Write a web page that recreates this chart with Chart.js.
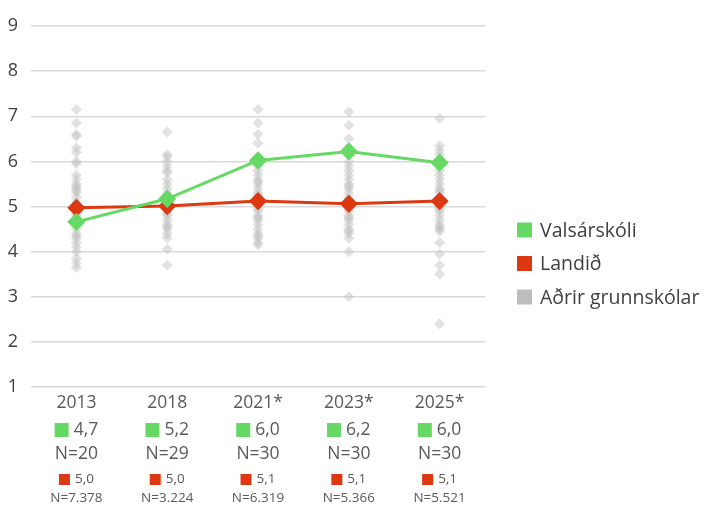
<!DOCTYPE html>
<html lang="is">
<head>
    <meta charset="UTF-8">
    <title>Valsárskóli</title>
    <script src="https://cdn.jsdelivr.net/npm/chart.js"></script>
    <style>
        html, body { margin: 0; padding: 0; background: #fff; }
        #wrap { width: 704px; height: 506px; }
    </style>
</head>
<body>
    <div id="wrap"><canvas id="graph"></canvas></div>

    <script>
        // Chart values
        const years = ["2013", "2018", "2021*", "2023*", "2025*"];
        const schoolValues = [4.66, 5.17, 6.02, 6.22, 5.97];
        const countryValues = [4.97, 5.01, 5.12, 5.06, 5.12];
        const schoolN = [20, 29, 30, 30, 30];
        const countryN = [7378, 3224, 6319, 5366, 5521];
        const yTicks = [1, 2, 3, 4, 5, 6, 7, 8, 9];

        // Other schools, one list per year
        const others2013 = [7.15, 6.85, 6.6, 6.55, 6.3, 6.2, 6.0, 5.95, 5.7, 5.6, 5.5, 5.45, 5.4, 5.35, 5.3, 5.2, 5.1, 5.05, 4.95, 4.85, 4.8, 4.7, 4.6, 4.5, 4.4, 4.35, 4.3, 4.2, 4.1, 4.0, 3.85, 3.75, 3.65];
        const others2018 = [6.65, 6.15, 6.1, 6.0, 5.9, 5.8, 5.75, 5.6, 5.5, 5.4, 5.3, 5.2, 5.1, 5.05, 5.0, 4.95, 4.9, 4.85, 4.8, 4.7, 4.6, 4.55, 4.5, 4.4, 4.3, 4.05, 3.7];
        const others2021 = [7.15, 6.85, 6.6, 6.4, 6.1, 6.0, 5.9, 5.8, 5.7, 5.6, 5.55, 5.5, 5.4, 5.3, 5.25, 5.2, 5.1, 5.0, 4.95, 4.9, 4.8, 4.75, 4.7, 4.6, 4.5, 4.4, 4.35, 4.3, 4.2, 4.15];
        const others2023 = [7.1, 6.8, 6.5, 6.3, 6.0, 5.9, 5.8, 5.7, 5.6, 5.5, 5.45, 5.4, 5.3, 5.2, 5.15, 5.1, 5.0, 4.95, 4.9, 4.8, 4.75, 4.7, 4.6, 4.5, 4.45, 4.4, 4.3, 4.0, 3.0];
        const others2025 = [6.95, 6.35, 6.25, 6.15, 6.0, 5.9, 5.8, 5.7, 5.6, 5.5, 5.4, 5.35, 5.3, 5.2, 5.1, 5.05, 5.0, 4.95, 4.9, 4.8, 4.7, 4.6, 4.55, 4.5, 4.45, 4.2, 3.95, 3.7, 3.5, 2.4];
        const others = [others2013, others2018, others2021, others2023, others2025];

        const green = "#66d964";
        const red = "#dc3912";
        const grey = "#bdbdbd";
        const textColor = "#595959";
        const font = "'Open Sans', Lato, sans-serif";

        const otherPoints = [];
        others.forEach((list, i) => list.forEach(v => otherPoints.push({ x: years[i], y: v })));

        const fmt1 = v => v.toFixed(1).replace(".", ",");
        const fmtN = n => String(n).replace(/\B(?=(\d{3})+(?!\d))/g, ".");

        // Labels under the axis and the legend on the right
        const extras = {
            id: "extras",
            afterDraw(chart) {
                const ctx = chart.ctx;
                const x = chart.scales.x;
                const base = chart.chartArea.bottom;
                ctx.save();
                ctx.textBaseline = "middle";
                years.forEach((yr, i) => {
                    const cx = x.getPixelForValue(i);
                    ctx.fillStyle = textColor;
                    ctx.textAlign = "center";
                    ctx.font = "17.5px " + font;
                    ctx.fillText(yr, cx, base + 16);
                    ctx.fillText("N=" + schoolN[i], cx, base + 67);

                    // green square + value
                    let t = fmt1(schoolValues[i]);
                    let w = ctx.measureText(t).width;
                    let total = 14 + 5 + w;
                    let sx = cx - total / 2;
                    ctx.fillStyle = green;
                    ctx.fillRect(sx, base + 36, 14, 14);
                    ctx.fillStyle = textColor;
                    ctx.textAlign = "left";
                    ctx.fillText(t, sx + 19, base + 43);

                    // red square + value
                    ctx.font = "13.5px " + font;
                    t = fmt1(countryValues[i]);
                    w = ctx.measureText(t).width;
                    total = 11 + 5 + w;
                    sx = cx - total / 2;
                    ctx.fillStyle = red;
                    ctx.fillRect(sx, base + 87, 11, 11);
                    ctx.fillStyle = textColor;
                    ctx.fillText(t, sx + 16, base + 92);
                    ctx.textAlign = "center";
                    ctx.fillText("N=" + fmtN(countryN[i]), cx, base + 111);
                });

                // legend
                const items = [["Valsárskóli", green], ["Landið", red], ["Aðrir grunnskólar", grey]];
                ctx.font = "19.5px " + font;
                ctx.textAlign = "left";
                items.forEach((it, i) => {
                    const ly = 230 + i * 33.5;
                    ctx.fillStyle = it[1];
                    ctx.fillRect(517, ly - 7.5, 15, 15);
                    ctx.fillStyle = "#404040";
                    ctx.fillText(it[0], 540, ly + 1);
                });
                ctx.restore();
            }
        };

        const ctx = document.getElementById("graph").getContext("2d");
        new Chart(ctx, {
            type: "line",
            data: {
                labels: years,
                datasets: [
                    {
                        label: "Valsárskóli",
                        data: schoolValues,
                        borderColor: green,
                        backgroundColor: green,
                        borderWidth: 3,
                        pointStyle: "rectRot",
                        pointRadius: 7,
                        pointHoverRadius: 7,
                        tension: 0
                    },
                    {
                        label: "Landið",
                        data: countryValues,
                        borderColor: red,
                        backgroundColor: red,
                        borderWidth: 3,
                        pointStyle: "rectRot",
                        pointRadius: 7,
                        pointHoverRadius: 7,
                        tension: 0
                    },
                    {
                        label: "Aðrir grunnskólar",
                        data: otherPoints,
                        showLine: false,
                        borderWidth: 0,
                        backgroundColor: "rgba(190,190,190,0.45)",
                        borderColor: "rgba(190,190,190,0)",
                        pointStyle: "rectRot",
                        pointRadius: 5.5
                    }
                ]
            },
            options: {
                responsive: true,
                maintainAspectRatio: false,
                animation: false,
                layout: { padding: { top: 26, right: 219, bottom: 119, left: 0 } },
                plugins: {
                    legend: { display: false },
                    tooltip: { enabled: false }
                },
                scales: {
                    x: {
                        offset: true,
                        grid: { display: false, drawTicks: false },
                        border: { display: false },
                        ticks: { display: false }
                    },
                    y: {
                        min: 1,
                        max: 9,
                        afterBuildTicks: s => { s.ticks = yTicks.map(v => ({ value: v })); },
                        afterFit: s => { s.width = 31; },
                        grid: { color: "#d9d9d9", lineWidth: 1.5, drawTicks: false },
                        border: { display: false },
                        ticks: {
                            padding: 13,
                            color: "#404040",
                            font: { family: font, size: 18 }
                        }
                    }
                }
            },
            plugins: [extras]
        });
    </script>
</body>
</html>
